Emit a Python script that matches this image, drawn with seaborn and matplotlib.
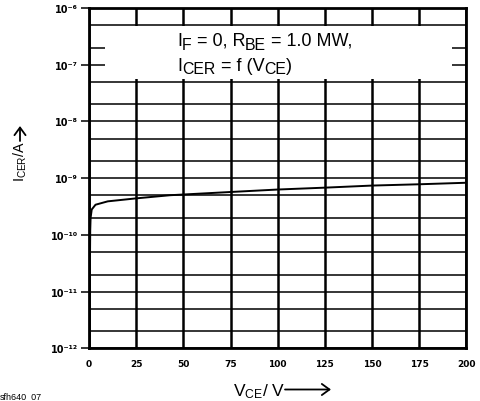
import matplotlib
matplotlib.use('Agg')
import matplotlib.pyplot as plt
import seaborn as sns
import pandas as pd
from matplotlib.patches import Rectangle
from matplotlib.ticker import FixedLocator, NullFormatter
from matplotlib import font_manager, ft2font

# ---- data ----
v_ce = [0.5, 0.55, 0.6, 0.7, 0.9, 1.5, 3.5, 10, 25, 43, 75, 100, 125, 150, 175, 200]
i_cer = [1e-12, 1e-11, 5e-11, 1.2e-10, 2.0e-10, 2.8e-10, 3.4e-10, 3.9e-10, 4.4e-10,
         5.0e-10, 5.7e-10, 6.3e-10, 6.8e-10, 7.4e-10, 7.8e-10, 8.3e-10]

x_ticks = [0, 25, 50, 75, 100, 125, 150, 175, 200]
x_labels = ['0', '25', '50', '75', '100', '125', '150', '175', '200']
y_ticks = [1e-12, 1e-11, 1e-10, 1e-9, 1e-8, 1e-7, 1e-6]
y_labels = ['10⁻¹²', '10⁻¹¹', '10⁻¹⁰', '10⁻⁹', '10⁻⁸', '10⁻⁷', '10⁻⁶']
y_minor = [2e-12, 5e-12, 2e-11, 5e-11, 2e-10, 5e-10, 2e-9, 5e-9,
           2e-8, 5e-8, 2e-7, 5e-7]

# (text, is_subscript)
annot_line1 = [('I', False), ('F', True), (' = 0, R', False), ('BE', True), (' = 1.0 MW,', False)]
annot_line2 = [('I', False), ('CER', True), (' = f (V', False), ('CE', True), (')', False)]
y_title = r'$\mathregular{I_{CER}/A}$'
x_title = r'$\mathregular{V_{CE}/\ V}$'
code_label = 'sfh640_07'

df = pd.DataFrame({'V': v_ce, 'I': i_cer})

sns.set_style('white')
plt.rcParams['font.family'] = ['Liberation Sans', 'DejaVu Sans']
plt.rcParams['mathtext.fontset'] = 'custom'
plt.rcParams['mathtext.rm'] = 'Liberation Sans'
plt.rcParams['mathtext.it'] = 'Liberation Sans'
plt.rcParams['mathtext.bf'] = 'Liberation Sans:bold'
for k in ['text.color', 'axes.labelcolor', 'xtick.color', 'ytick.color']:
    plt.rcParams[k] = 'black'

W, H, DPI = 481, 402, 100
fig = plt.figure(figsize=(W / DPI, H / DPI), dpi=DPI)
ax = fig.add_axes([88.9 / W, 1 - 349.3 / H, 377.6 / W, 340.3 / H])

sns.lineplot(data=df, x='V', y='I', ax=ax, color='black', lw=1.4,
             estimator=None, sort=False, zorder=3)

ax.set_yscale('log')
ax.set_xlim(0, 200)
ax.set_ylim(1e-12, 1e-6)

ax.xaxis.set_major_locator(FixedLocator(x_ticks))
ax.set_xticklabels(x_labels, fontfamily='DejaVu Sans', fontweight='bold', fontsize=6.5)
ax.yaxis.set_major_locator(FixedLocator(y_ticks))
ax.yaxis.set_minor_locator(FixedLocator(y_minor))
ax.yaxis.set_minor_formatter(NullFormatter())
ax.set_yticklabels(y_labels, fontfamily='DejaVu Sans', fontweight='bold', fontsize=7)

ax.set_axisbelow(True)
ax.grid(axis='x', which='major', color='black', lw=1.8)
ax.grid(axis='y', which='both', color='black', lw=1.1)

ax.tick_params(axis='x', which='both', length=0, pad=8)
ax.tick_params(axis='y', which='major', length=6, width=1.1, color='black', pad=2, left=True)
ax.tick_params(axis='y', which='minor', length=0)

for s in ax.spines.values():
    s.set_visible(True)
    s.set_color('black')
    s.set_linewidth(2)

ax.set_xlabel('')
ax.set_ylabel('')

# white annotation box masking the grid
ax.add_patch(Rectangle((0.0426, 0.7914), 0.919, 0.1556, transform=ax.transAxes,
                       facecolor='white', edgecolor='none', zorder=1))

# rich text with large subscripts (pen advances from the font itself)
_font = ft2font.FT2Font(font_manager.findfont(font_manager.FontProperties(family='Liberation Sans')))


def advance(s, size):
    _font.set_size(size, DPI)
    return sum(_font.load_char(ord(c)).linearHoriAdvance for c in s) / 65536.0


def rich_text(x_px, base_px, parts, size, sub_scale=0.88, sub_drop=3.5):
    x = x_px
    for s, sub in parts:
        fs = size * sub_scale if sub else size
        yb = base_px + (sub_drop if sub else 0)
        fig.text(x / W, 1 - yb / H, s, fontsize=fs, ha='left', va='baseline',
                 family='Liberation Sans', color='black', zorder=5)
        x += advance(s, fs)


def fp(x_px, y_px):
    return (x_px / W, 1 - y_px / H)


rich_text(177, 46, annot_line1, 13)
rich_text(177, 70.7, annot_line2, 13)

# axis titles with arrows
fig.text(*fp(25, 182), y_title, rotation=90, rotation_mode='anchor',
         ha='left', va='baseline', fontsize=10.3)
fig.text(*fp(233, 396.7), x_title, ha='left', va='baseline', fontsize=12.5)
arrow_kw = dict(arrowstyle='->,head_length=0.55,head_width=0.4', lw=1.3,
                color='black', shrinkA=0, shrinkB=0, mutation_scale=10)
fig.add_artist(matplotlib.patches.FancyArrowPatch(fp(20, 142), fp(20, 127),
               transform=fig.transFigure, **arrow_kw))
fig.add_artist(matplotlib.patches.FancyArrowPatch(fp(285, 390.5), fp(331, 390.5),
               transform=fig.transFigure, **arrow_kw))

fig.text(*fp(0, 399.5), code_label, ha='left', va='baseline', fontsize=6.5)

fig.savefig('out.png', dpi=DPI)
